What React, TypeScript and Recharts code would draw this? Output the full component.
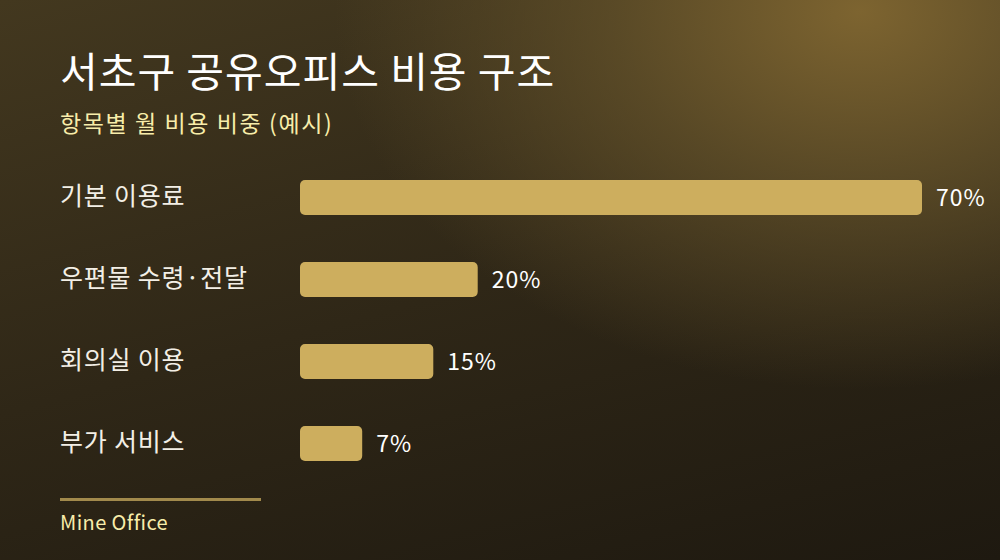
import React from "react";
import { BarChart, Bar, XAxis, YAxis, LabelList } from "recharts";

const categories = ["기본 이용료", "우편물 수령·전달", "회의실 이용", "부가 서비스"];
const shares = [70, 20, 15, 7];

const data = categories.map((name, i) => ({ name, value: shares[i] }));

const FONT = '"Noto Sans CJK KR", "Noto Sans", sans-serif';

const CategoryTick = ({ y, payload }: any) => (
  <text
    x={60}
    y={y}
    dy={8}
    textAnchor="start"
    fill="#F3EFE6"
    fontSize={25}
    letterSpacing={0.8}
    fontFamily={FONT}
  >
    {payload.value}
  </text>
);

const App = () => (
  <div
    style={{
      position: "fixed",
      left: 0,
      top: 0,
      width: 1000,
      height: 560,
      overflow: "hidden",
      fontFamily: FONT,
      background:
        "radial-gradient(ellipse 70% 90% at 86% 2%, rgba(125,100,48,1) 0%, rgba(100,82,42,0.75) 35%, rgba(60,48,28,0) 75%), linear-gradient(165deg, #43381f 0%, #2f2717 50%, #1e1910 100%)",
    }}
  >
    <div
      style={{
        position: "absolute",
        left: 60,
        top: 41,
        color: "#FFFFFF",
        fontSize: 41,
        fontWeight: 400,
        letterSpacing: 1,
        lineHeight: "56px",
      }}
    >
      서초구 공유오피스 비용 구조
    </div>
    <div
      style={{
        position: "absolute",
        left: 60,
        top: 106,
        color: "#F8EDAA",
        fontSize: 23,
        letterSpacing: 1.6,
        lineHeight: "32px",
      }}
    >
      항목별 월 비용 비중 (예시)
    </div>

    <div style={{ position: "absolute", left: 0, top: 156 }}>
      <BarChart
        width={1000}
        height={328}
        data={data}
        layout="vertical"
        margin={{ top: 0, right: 78, bottom: 0, left: 0 }}
        barCategoryGap={24}
      >
        <XAxis type="number" domain={[0, 70]} hide />
        <YAxis
          type="category"
          dataKey="name"
          width={300}
          axisLine={false}
          tickLine={false}
          tick={<CategoryTick />}
        />
        <Bar
          dataKey="value"
          fill="#CDAE5E"
          barSize={35}
          radius={5}
          isAnimationActive={false}
        >
          <LabelList
            dataKey="value"
            position="right"
            offset={14}
            formatter={(v: any) => `${v}%`}
            fill="#FFFFFF"
            fontSize={23}
            letterSpacing={1}
            fontFamily={FONT}
          />
        </Bar>
      </BarChart>
    </div>

    <div
      style={{
        position: "absolute",
        left: 60,
        top: 498,
        width: 201,
        height: 3,
        background: "#A28A4C",
      }}
    />
    <div
      style={{
        position: "absolute",
        left: 60,
        top: 508,
        color: "#F8EDAA",
        fontSize: 20,
        letterSpacing: 0.4,
        lineHeight: "28px",
      }}
    >
      Mine Office
    </div>
  </div>
);

export default App;
